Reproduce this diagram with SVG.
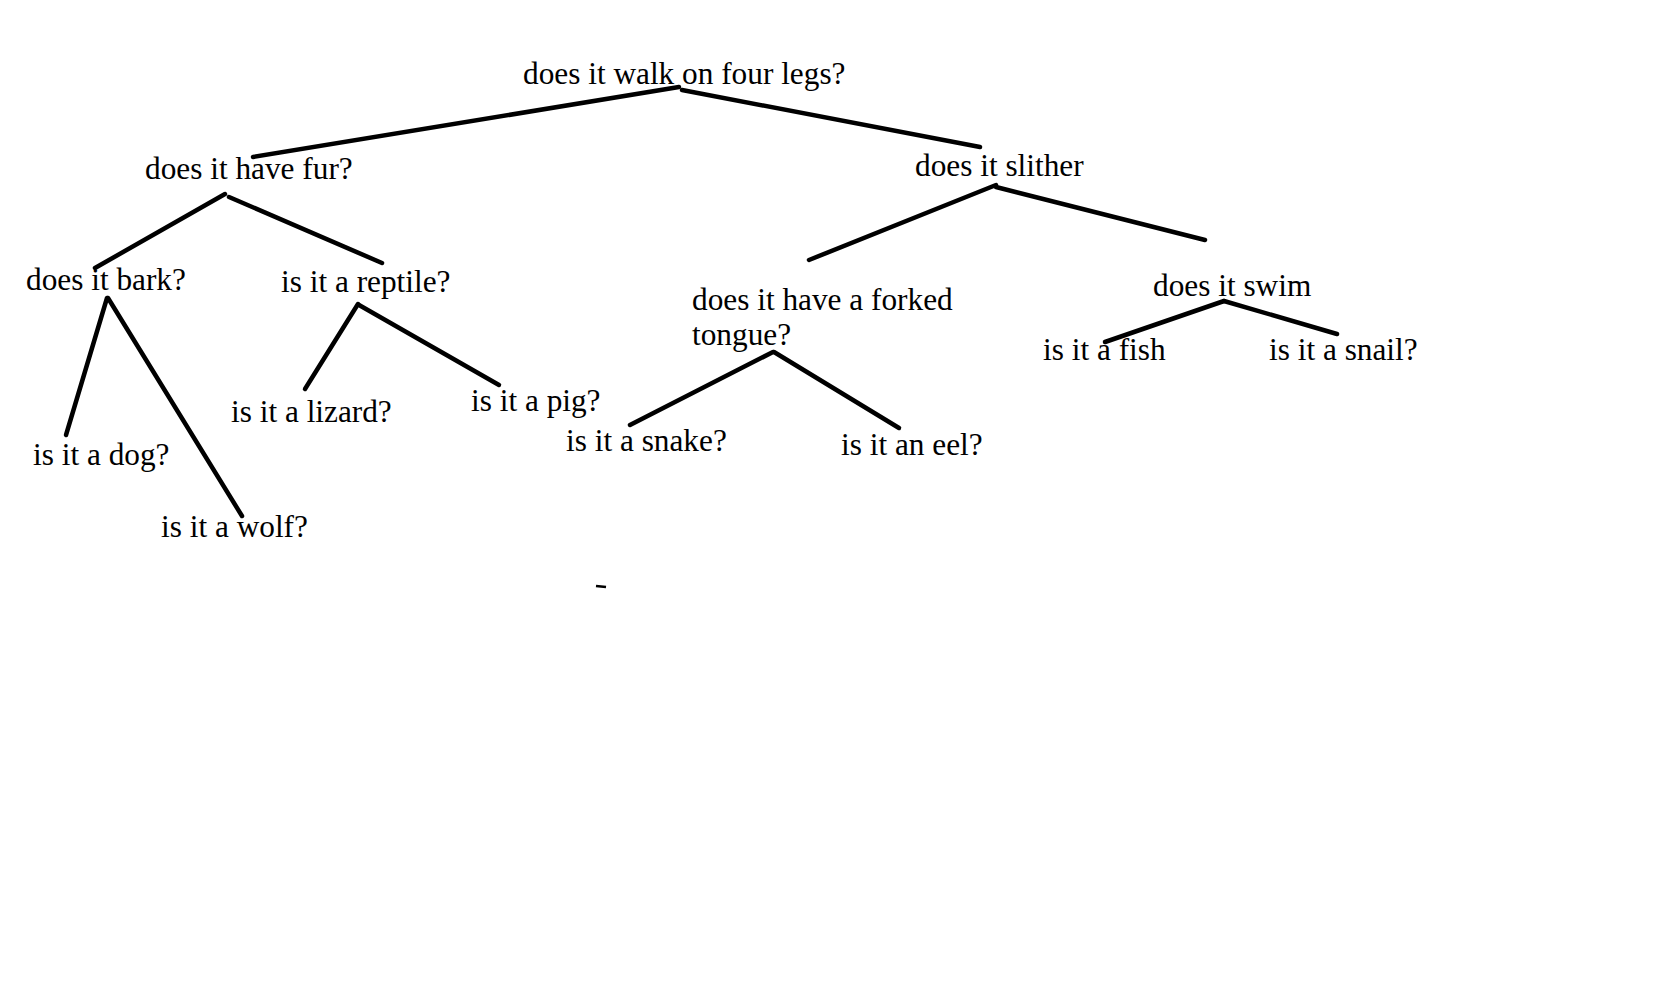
<svg xmlns="http://www.w3.org/2000/svg" width="1662" height="1005" viewBox="0 0 1662 1005">
<style>
text { font-family: "Liberation Serif", "Times New Roman", serif; font-size: 31.3px; fill: #000; }
.edge { stroke: #000; stroke-width: 4.5; stroke-linecap: round; fill: none; }
</style>
<rect width="1662" height="1005" fill="#fff"/>
<g id="connectors">
<line class="edge" x1="679" y1="87" x2="253" y2="157"/>
<line class="edge" x1="682" y1="90" x2="980" y2="147"/>
<line class="edge" x1="225" y1="194" x2="95" y2="268"/>
<line class="edge" x1="229" y1="197" x2="382" y2="263"/>
<line class="edge" x1="107" y1="298" x2="66" y2="435"/>
<line class="edge" x1="108" y1="298" x2="242" y2="516"/>
<line class="edge" x1="358" y1="304" x2="305" y2="389"/>
<line class="edge" x1="359" y1="305" x2="499" y2="385"/>
<line class="edge" x1="996" y1="185" x2="809" y2="260"/>
<line class="edge" x1="996" y1="187" x2="1205" y2="240"/>
<line class="edge" x1="1224" y1="301" x2="1105" y2="342"/>
<line class="edge" x1="1224" y1="301" x2="1337" y2="334"/>
<line class="edge" x1="773" y1="352" x2="630" y2="425"/>
<line class="edge" x1="774" y1="352" x2="899" y2="428"/>
<line stroke="#000" stroke-width="2.5" x1="596" y1="586" x2="606" y2="587"/>
</g>
<g id="n-root"><text x="523" y="84">does it walk on four legs?</text></g>
<g id="n-fur"><text x="145" y="179">does it have fur?</text></g>
<g id="n-slither"><text x="915" y="176">does it slither</text></g>
<g id="n-bark"><text x="26" y="290">does it bark?</text></g>
<g id="n-reptile"><text x="281" y="292">is it a reptile?</text></g>
<g id="n-forked"><text x="692" y="310">does it have a forked</text><text x="692" y="345">tongue?</text></g>
<g id="n-swim"><text x="1153" y="296">does it swim</text></g>
<g id="n-fish"><text x="1043" y="360">is it a fish</text></g>
<g id="n-snail"><text x="1269" y="360">is it a snail?</text></g>
<g id="n-dog"><text x="33" y="465">is it a dog?</text></g>
<g id="n-wolf"><text x="161" y="537">is it a wolf?</text></g>
<g id="n-lizard"><text x="231" y="422">is it a lizard?</text></g>
<g id="n-pig"><text x="471" y="411">is it a pig?</text></g>
<g id="n-snake"><text x="566" y="451">is it a snake?</text></g>
<g id="n-eel"><text x="841" y="455">is it an eel?</text></g>
</svg>
